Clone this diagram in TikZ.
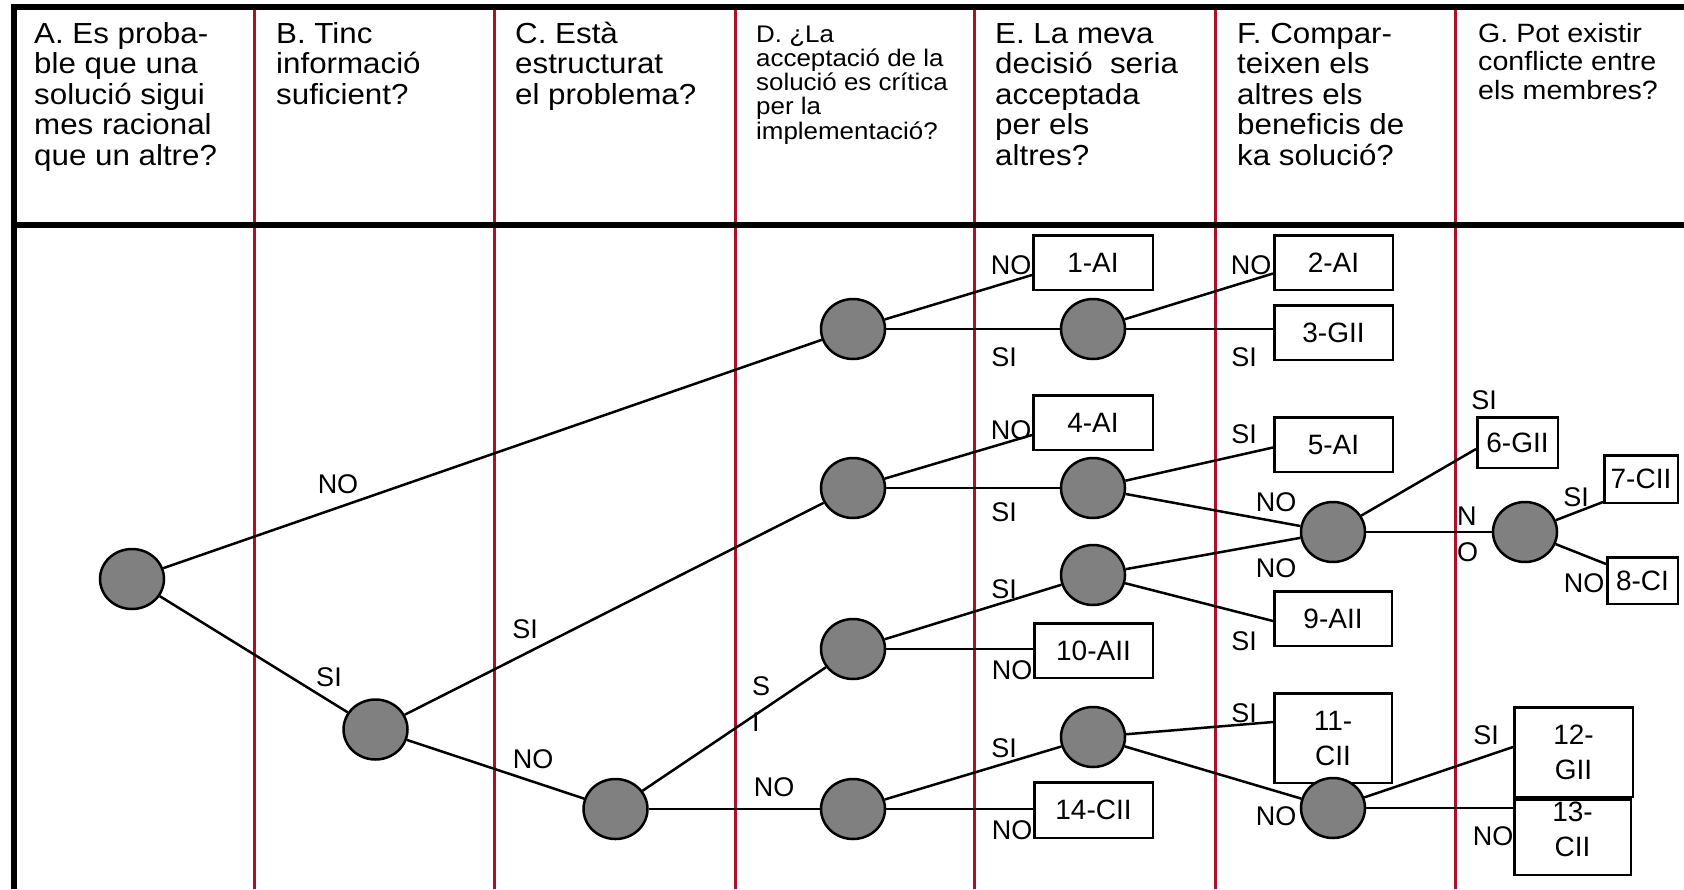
\documentclass[tikz,border=0pt]{standalone}
\usepackage{fontspec}
\setmainfont{Liberation Sans}
\newfontfamily\hdrfont{Liberation Sans}[FakeStretch=1.08]
\usetikzlibrary{shapes.geometric}
\definecolor{colline}{RGB}{175,15,45}
\definecolor{nodegray}{RGB}{128,128,128}
\lineskiplimit=-1000pt
\tikzset{
 hdr/.style={anchor=base west, inner sep=0pt, font=\hdrfont\fontsize{29}{30.6}\selectfont},
 hdrD/.style={hdr, font=\hdrfont\fontsize{24}{24.3}\selectfont},
 hdrG/.style={hdr, font=\hdrfont\fontsize{26.5}{28.5}\selectfont},
 frame/.style={line width=6pt, black},
 sep/.style={line width=3pt, colline},
 dec/.style={ellipse, draw=black, line width=2.5pt, fill=nodegray, minimum width=64pt, minimum height=60pt, inner sep=0pt},
 res/.style={rectangle, draw=black, line width=2.5pt, fill=white, inner sep=0pt, align=center, font=\fontsize{28}{35}\selectfont},
 restxt/.style={inner sep=0pt, align=center, font=\fontsize{28}{35}\selectfont},
 lbl/.style={inner sep=0pt, font=\fontsize{27}{30}\selectfont},
 lblv/.style={inner sep=0pt, anchor=west, align=left, font=\fontsize{27}{35.5}\selectfont},
 conn/.style={line width=2.5pt, black},
}
\begin{document}
\begin{tikzpicture}[x=1pt, y=-1pt]
\useasboundingbox (0,0) rectangle (1684,889);
\fill[white] (0,0) rectangle (1684,889);

% column separators
\coordinate (s1t) at (254,7);   \coordinate (s1b) at (254,889);
\coordinate (s2t) at (494,7);   \coordinate (s2b) at (494,889);
\coordinate (s3t) at (735,7);   \coordinate (s3b) at (735,889);
\coordinate (s4t) at (974,7);   \coordinate (s4b) at (974,889);
\coordinate (s5t) at (1215,7);  \coordinate (s5b) at (1215,889);
\coordinate (s6t) at (1455,7);  \coordinate (s6b) at (1455,889);
\foreach \i in {1,...,6} \draw[sep] (s\i t) -- (s\i b);

% frame
\coordinate (tl) at (13.5,7); \coordinate (tr) at (1684,7);
\coordinate (hl) at (13.5,225); \coordinate (hr) at (1684,225);
\coordinate (bl) at (13.5,889);
\draw[frame] (tr) -- (tl) -- (bl);
\draw[frame] (hl) -- (hr);

% header texts
\node[hdr] (hA) at (34,43) {\vtop{\hbox{A. Es proba-}\hbox{ble que una}\hbox{solució sigui}\hbox{mes racional}\hbox{que un altre?}}};
\node[hdr] (hB) at (276,43) {\vtop{\hbox{B. Tinc}\hbox{informació}\hbox{suficient?}}};
\node[hdr] (hC) at (515,43) {\vtop{\hbox{C. Està}\hbox{estructurat}\hbox{el problema?}}};
\node[hdrD] (hD) at (756,42) {\vtop{\hbox{D. ¿La}\hbox{acceptació de la}\hbox{solució es crítica}\hbox{per la}\hbox{implementació?}}};
\node[hdr] (hE) at (995,43) {\vtop{\hbox{E. La meva}\hbox{decisió\ \ seria}\hbox{acceptada}\hbox{per els}\hbox{altres?}}};
\node[hdr] (hF) at (1237,43) {\vtop{\hbox{F. Compar-}\hbox{teixen els}\hbox{altres els}\hbox{beneficis de}\hbox{ka solució?}}};
\node[hdrG] (hG) at (1478,42) {\vtop{\hbox{G. Pot existir}\hbox{conflicte entre}\hbox{els membres?}}};

% result boxes
\node[res, minimum width=119.5pt, minimum height=54.5pt] (b1) at (1093,262.5) {1-AI};
\node[res, minimum width=118.5pt, minimum height=54.5pt] (b2) at (1333.5,262.5) {2-AI};
\node[res, minimum width=118.5pt, minimum height=54.5pt] (b3) at (1333.5,332.5) {3-GII};
\node[res, minimum width=119.5pt, minimum height=54.5pt] (b4) at (1093,422.5) {4-AI};
\node[res, minimum width=118.5pt, minimum height=54.5pt] (b5) at (1333.5,444.5) {5-AI};
\node[res, minimum width=80.5pt, minimum height=50.5pt] (b6) at (1517.5,442.5) {6-GII};
\node[res, minimum width=73.5pt, minimum height=47.5pt] (b7) at (1641,479) {7-CII};
\node[res, minimum width=70.5pt, minimum height=46.5pt] (b8) at (1642.5,580.5) {8-CI};
\node[res, minimum width=117.5pt, minimum height=54.5pt] (b9) at (1333,618.5) {9-AII};
\node[res, minimum width=118.5pt, minimum height=54.5pt] (b10) at (1093.5,650.5) {10-AII};
\node[res, minimum width=117.5pt, minimum height=89.5pt] (b11) at (1333,738) {11-\\CII};
\node[res, minimum width=118.5pt, minimum height=89.5pt] (b12) at (1573.5,752) {12-\\GII};
\node[res, minimum width=116.5pt, minimum height=75.5pt] (b13) at (1572.5,837) {};
\node[restxt] (t13) at (1572.5,829.5) {13-\\CII};
\node[res, minimum width=118.5pt, minimum height=55.5pt] (b14) at (1093.5,810) {14-CII};

% decision nodes
\node[dec] (A)  at (132,579) {};
\node[dec] (B)  at (375.5,729.5) {};
\node[dec] (C)  at (615.5,809) {};
\node[dec] (D1) at (853,329) {};
\node[dec] (D2) at (853,488) {};
\node[dec] (D3) at (853,649) {};
\node[dec] (D4) at (853,809) {};
\node[dec] (E1) at (1093,329) {};
\node[dec] (E2) at (1093,488) {};
\node[dec] (E3) at (1093,575) {};
\node[dec] (E4) at (1093,737) {};
\node[dec] (F1) at (1333,532) {};
\node[dec] (F2) at (1333,808) {};
\node[dec] (G1) at (1525,532) {};

% connectors
\draw[conn] (A) -- (D1);
\draw[conn] (A) -- (B);
\draw[conn] (B) -- (D2);
\draw[conn] (B) -- (C);
\draw[conn] (C) -- (D3);
\draw[conn] (C) -- (D4);
\draw[conn] (D1) -- ([yshift=-12.5pt]b1.west);
\draw[conn] (D1) -- (E1);
\draw[conn] (D2) -- ([yshift=-12.5pt]b4.west);
\draw[conn] (D2) -- (E2);
\draw[conn] (D3) -- (E3);
\draw[conn] (D3) -- (D3 -| b10.west);
\draw[conn] (D4) -- (E4);
\draw[conn] (D4) -- (D4 -| b14.west);
\draw[conn] (E1) -- ([yshift=-11pt]b2.west);
\draw[conn] (E1) -- (E1 -| b3.west);
\draw[conn] (E2) -- ([yshift=-3pt]b5.west);
\draw[conn] (E2) -- (F1);
\draw[conn] (E3) -- (F1);
\draw[conn] (E3) -- ([yshift=-2.5pt]b9.west);
\draw[conn] (E4) -- ([yshift=16pt]b11.west);
\draw[conn] (E4) -- (F2);
\draw[conn] (F1) -- ([yshift=-6.5pt]b6.west);
\draw[conn] (F1) -- (G1);
\draw[conn] (G1) -- ([yshift=-23pt]b7.west);
\draw[conn] (G1) -- ([yshift=16.5pt]b8.west);
\draw[conn] (F2) -- ([yshift=5pt]b12.west);
\draw[conn] (F2) -- (F2 -| b13.west);

% branch labels
\node[lbl] (l1)  at (338,484) {NO};
\node[lbl] (l2)  at (329,677) {SI};
\node[lbl] (l3)  at (525,629) {SI};
\node[lbl] (l4)  at (533,759) {NO};
\node[lblv] (l5) at (752,704) {S\\I};
\node[lbl] (l6)  at (774,787) {NO};
\node[lbl] (l7)  at (1011,265) {NO};
\node[lbl] (l8)  at (1004,357) {SI};
\node[lbl] (l9)  at (1011,430) {NO};
\node[lbl] (l10) at (1004,512) {SI};
\node[lbl] (l11) at (1251,265) {NO};
\node[lbl] (l12) at (1244,357) {SI};
\node[lbl] (l13) at (1244,434) {SI};
\node[lbl] (l14) at (1276,502) {NO};
\node[lbl] (l15) at (1004,589) {SI};
\node[lbl] (l16) at (1276,568) {NO};
\node[lbl] (l17) at (1244,641) {SI};
\node[lbl] (l18) at (1012,670) {NO};
\node[lbl] (l19) at (1004,748) {SI};
\node[lbl] (l20) at (1012,830) {NO};
\node[lbl] (l21) at (1244,713) {SI};
\node[lbl] (l22) at (1276,816) {NO};
\node[lbl] (l23) at (1484,400) {SI};
\node[lblv] (l24) at (1457,534.5) {N\\O};
\node[lbl] (l25) at (1576,497) {SI};
\node[lbl] (l26) at (1584,583) {NO};
\node[lbl] (l27) at (1486,735) {SI};
\node[lbl] (l28) at (1493,836) {NO};
\end{tikzpicture}
\end{document}
